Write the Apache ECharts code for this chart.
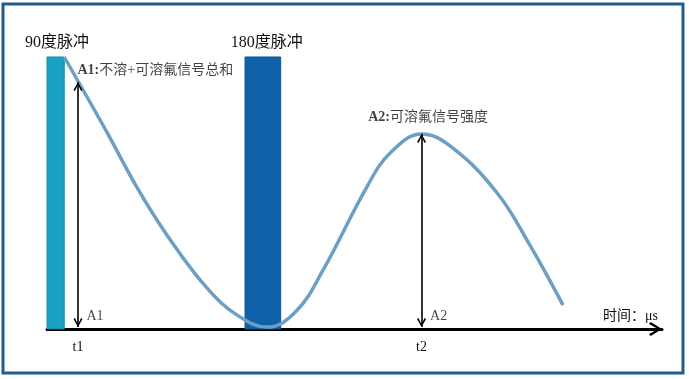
<!DOCTYPE html>
<html><head><meta charset="utf-8">
<script src="https://cdn.jsdelivr.net/npm/echarts@6/dist/echarts.min.js"></script>
<style>html,body{margin:0;padding:0;background:#fff}#c{width:689px;height:379px}</style>
</head><body><div id="c"></div>
<script>
// ---- data ----
const curveTime   = [2.8, 9.8, 14.6, 19.5, 26.0, 31.0, 35.8, 40.5, 44.9, 52.0, 55.8, 60.9, 66.0, 73.2, 78.5, 83.9];
const curveSignal = [100, 72.1, 52.2, 34.6, 15.1, 5.0, 0.7, 6.5, 21.7, 52.2, 64.7, 71.7, 66.5, 50.0, 30.9, 8.8];

const pulseNames  = ['90度脉冲', '180度脉冲'];
const pulseStart  = [0, 32.2];
const pulseEnd    = [2.8, 38.0];
const pulseHeight = [100, 100];

const markerNames = ['A1', 'A2'];
const markerTime  = [5.04, 60.9];
const markerAmp   = [90.8, 71.7];
const markerBase  = [0.7, 0.7];
const markerNotes = ['A1:不溶+可溶氟信号总和', 'A2:可溶氟信号强度'];
const tickLabels  = ['t1', 't2'];
const axisName    = '时间：μs';

// ---- styles ----
const FONT = '"Liberation Serif", "Noto Sans CJK SC", serif';
const TXT = '#111';
const pulseFill = ['#1aa0c2', '#0f61a8'];
const pulseStroke = ['#1889ab', '#0d5593'];
const pulseLabelDx = [1.5, 4];
// chevron pointing up, tip at bbox centre (degenerate sub-path extends bbox)
const chevronBig = 'path://M50,0 L100,80 L86,92 L50,28 L14,92 L0,80 Z M50,-92 L50.01,-92 Z';
const chevronSmall = 'path://M50,0 L100,85 L84,95 L50,30 L16,95 L0,85 Z M50,-95 L50.01,-95 Z';

const chart = echarts.init(document.getElementById('c'), null, {renderer: 'canvas'});

const noteData = markerNames.map((n, i) => {
  const parts = markerNotes[i].split(':');
  return {
    value: [markerTime[i], markerAmp[i]],
    label: {
      show: true,
      formatter: '{b|' + parts[0] + ':}' + parts[1],
      position: i === 0 ? [0, -11] : [7, -16],
      align: i === 0 ? 'left' : 'center',
      verticalAlign: 'middle'
    }
  };
});
const baseData = markerNames.map((n, i) => ({
  value: [markerTime[i], 0],
  label: {show: true, formatter: n, position: [9, -12], align: 'left', verticalAlign: 'middle'}
}));

chart.setOption({
  animation: false,
  backgroundColor: '#fff',
  grid: {left: 47, right: 27, top: 57, bottom: 50},
  xAxis: {
    type: 'value', min: 0, max: 100,
    splitLine: {show: false},
    axisTick: {show: false},
    axisLine: {
      show: true, onZero: false,
      lineStyle: {color: '#000', width: 3},
      symbol: ['none', chevronBig], symbolSize: [15, 26]
    },
    axisLabel: {
      customValues: markerTime,
      formatter: v => {
        let k = 0, d = Infinity;
        markerTime.forEach((t, i) => { if (Math.abs(t - v) < d) { d = Math.abs(t - v); k = i; } });
        return tickLabels[k];
      },
      margin: 11, color: TXT, fontSize: 14, fontFamily: FONT
    },
    name: axisName, nameLocation: 'end', nameGap: -4,
    nameTextStyle: {align: 'right', verticalAlign: 'bottom', padding: [0, 0, 6, 0], fontSize: 14, fontFamily: FONT, color: TXT}
  },
  yAxis: {type: 'value', min: 0, max: 100, show: false},
  graphic: [{
    type: 'rect', z: 100, silent: true,
    shape: {x: 3, y: 4, width: 680, height: 369},
    style: {fill: 'none', stroke: '#205d8f', lineWidth: 3}
  }],
  series: [
    {
      type: 'custom', z: 1,
      encode: {x: [0, 1], y: 2},
      data: pulseNames.map((n, i) => [pulseStart[i], pulseEnd[i], pulseHeight[i]]),
      renderItem: (params, api) => {
        const i = params.dataIndex;
        const p0 = api.coord([api.value(0), api.value(2)]);
        const p1 = api.coord([api.value(1), 0]);
        return {type: 'group', children: [
          {type: 'rect', shape: {x: p0[0], y: p0[1], width: p1[0] - p0[0], height: p1[1] - p0[1]},
           style: {fill: pulseFill[i], stroke: pulseStroke[i], lineWidth: 1}},
          {type: 'text', style: {text: pulseNames[i], x: (p0[0] + p1[0]) / 2 + pulseLabelDx[i], y: p0[1] - 14,
            align: 'center', verticalAlign: 'middle', font: '16px ' + FONT, fill: TXT}}
        ]};
      }
    },
    {
      type: 'line', z: 3,
      data: curveTime.map((t, i) => [t, curveSignal[i]]),
      smooth: 0.4, symbol: 'none',
      lineStyle: {color: '#6c9fc3', width: 3.5}
    },
    {
      type: 'scatter', z: 4, symbolSize: 1,
      itemStyle: {color: 'rgba(0,0,0,0)'},
      label: {color: TXT, fontSize: 14, fontFamily: FONT,
        rich: {b: {fontWeight: 'bold', fontSize: 14, fontFamily: FONT, color: TXT}}},
      data: noteData.concat(baseData),
      markLine: {
        silent: true,
        symbol: [chevronSmall, chevronSmall],
        symbolSize: [9, 18],
        label: {show: false},
        lineStyle: {color: '#000', width: 1.6, type: 'solid'},
        data: markerTime.map((t, i) => [{coord: [t, markerAmp[i]]}, {coord: [t, markerBase[i]]}])
      }
    }
  ]
});
</script></body></html>
